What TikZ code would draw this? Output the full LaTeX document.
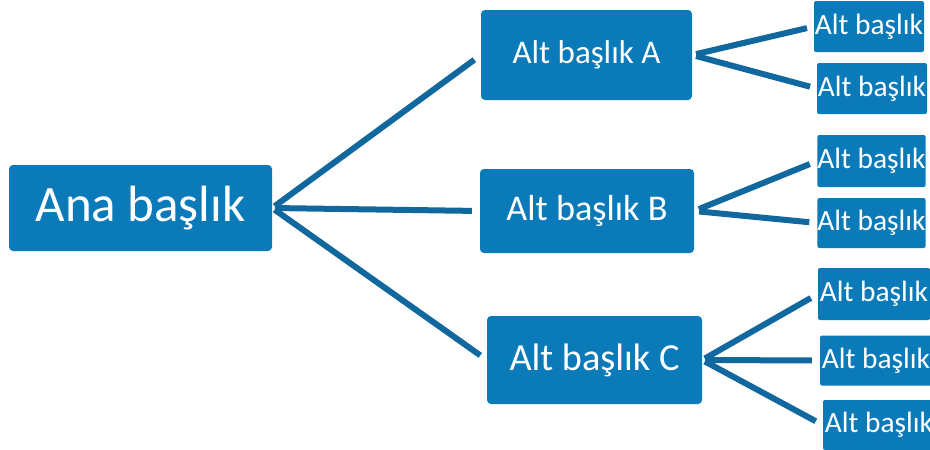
\documentclass[tikz,border=0pt]{standalone}
\usepackage{fontspec}
\setmainfont{Carlito}
\definecolor{boxblue}{RGB}{10,122,184}
\definecolor{lineblue}{RGB}{16,104,158}
\begin{document}
\begin{tikzpicture}[x=1pt,y=-1pt,
  box/.style={fill=boxblue,rounded corners=4pt,text=white,inner sep=0pt,anchor=center},
  mainbox/.style={box,minimum width=263pt,minimum height=86pt,font=\fontsize{51}{51}\selectfont},
  midbox/.style={box,minimum width=213pt},
  leafbox/.style={box,rounded corners=2pt,minimum width=110pt,minimum height=51pt,font=\fontsize{29.4}{29.4}\selectfont},
  conn/.style={draw=lineblue,line width=6pt,shorten <=3pt,shorten >=8pt}]
\useasboundingbox (0,0) rectangle (930,450);
\node[mainbox] (main) at (140.5,208) {Ana başlık};
\node[midbox,minimum width=211pt,minimum height=90pt,font=\fontsize{33}{33}\selectfont] (A) at (586.5,55) {Alt başlık A};
\node[midbox,minimum width=214pt,minimum height=84pt,font=\fontsize{36.2}{36.2}\selectfont] (B) at (587,211) {Alt başlık B};
\node[midbox,minimum width=215pt,minimum height=88pt,font=\fontsize{38.3}{38.3}\selectfont] (C) at (594.5,360) {Alt başlık C};
\node[leafbox] (a1) at (869,26.5) {Alt başlık};
\node[leafbox] (a2) at (872,88.5) {Alt başlık};
\node[leafbox,minimum width=107pt,minimum height=52pt] (b1) at (871.5,161) {Alt başlık};
\node[leafbox,minimum width=107pt,minimum height=50pt] (b2) at (871.5,223) {Alt başlık};
\node[leafbox,minimum width=112pt,minimum height=52pt] (c1) at (874,294) {Alt başlık};
\node[leafbox,minimum width=112pt,minimum height=50pt] (c2) at (876,360.5) {Alt başlık};
\node[leafbox,minimum width=112pt,minimum height=50pt] (c3) at (879,425) {Alt başlık};
\draw[conn] (main.east) -- (A.west);
\draw[conn] (main.east) -- (B.west);
\draw[conn] (main.east) -- (C.west);
\draw[conn,shorten <=4pt,shorten >=7pt] (A.east) -- (a1.west);
\draw[conn,shorten <=4pt,shorten >=7pt] (A.east) -- (a2.west);
\draw[conn,shorten <=5pt,shorten >=8pt] (B.east) -- (b1.west);
\draw[conn,shorten <=5pt,shorten >=8pt] (B.east) -- (b2.west);
\draw[conn,shorten <=3pt,shorten >=8pt] (C.east) -- (c1.west);
\draw[conn,shorten <=3pt,shorten >=8pt] (C.east) -- (c2.west);
\draw[conn,shorten <=3pt,shorten >=8pt] (C.east) -- (c3.west);
\end{tikzpicture}
\end{document}
